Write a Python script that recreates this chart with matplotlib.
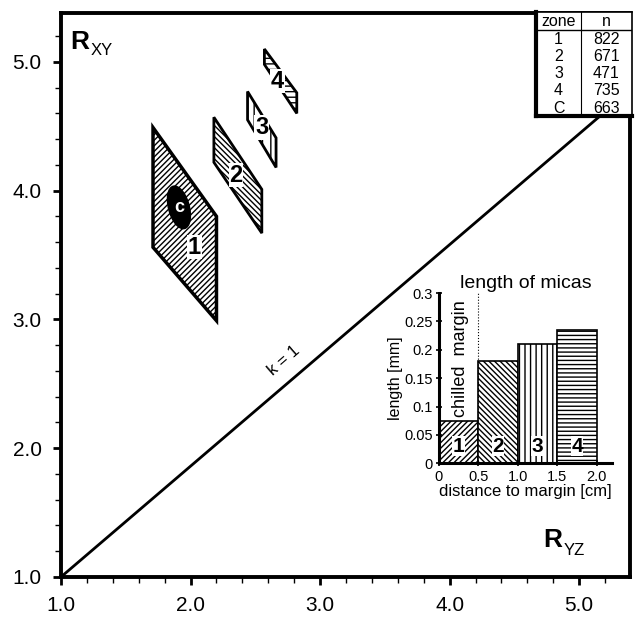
import matplotlib
matplotlib.use('Agg')
import matplotlib.pyplot as plt
from matplotlib.patches import Polygon, Ellipse

plt.rcParams['font.family'] = ['Liberation Sans', 'DejaVu Sans']
plt.rcParams['hatch.linewidth'] = 1.0

# zone outlines in the Flinn plot (R_YZ, R_XY)
zone1_x = [1.71, 2.20, 2.20, 1.71]
zone1_y = [4.49, 3.80, 2.99, 3.56]
zone2_x = [2.18, 2.55, 2.55, 2.18]
zone2_y = [4.57, 4.01, 3.67, 4.22]
zone3_x = [2.44, 2.66, 2.66, 2.44]
zone3_y = [4.77, 4.41, 4.18, 4.55]
zone4_x = [2.57, 2.82, 2.82, 2.57]
zone4_y = [5.10, 4.76, 4.60, 4.98]
zoneC_center = (1.91, 3.87)
zoneC_size = (0.16, 0.34)

zone_labels = ['1', '2', '3', '4']
zone_label_x = [2.03, 2.35, 2.55, 2.67]
zone_label_y = [3.56, 4.12, 4.49, 4.85]

k1_x = [1.0, 5.22]
k1_y = [1.0, 4.63]

table_zone = ['1', '2', '3', '4', 'C']
table_n = [822, 671, 471, 735, 663]

# inset: mica length vs distance to margin
bar_left = [0.0, 0.5, 1.0, 1.5]
bar_len = [0.075, 0.18, 0.21, 0.235]
bar_hatch = ['//////', '\\\\\\\\\\\\', '|||', '----']
bar_labels = ['1', '2', '3', '4']

fig = plt.figure(figsize=(6.36, 6.17), dpi=100)
ax = fig.add_axes([0.096, 0.065, 0.894, 0.914])
ax.set_xlim(1.0, 5.39)
ax.set_ylim(1.0, 5.38)

for s in ax.spines.values():
    s.set_linewidth(2.8)
ax.set_xticks([1, 2, 3, 4, 5])
ax.set_yticks([1, 2, 3, 4, 5])
ax.set_xticklabels(['1.0', '2.0', '3.0', '4.0', '5.0'])
ax.set_yticklabels(['1.0', '2.0', '3.0', '4.0', '5.0'])
ax.set_xticks([1 + 0.2 * i for i in range(22)], minor=True)
ax.set_yticks([1 + 0.2 * i for i in range(22)], minor=True)
ax.tick_params(which='major', direction='out', length=6, width=2, labelsize=15, pad=8)
ax.tick_params(which='minor', direction='out', length=4, width=1)

ax.plot(k1_x, k1_y, color='black', lw=2)
ax.text(2.72, 2.68, 'k = 1', rotation=41, fontsize=12, ha='center', va='center')

polys = [(zone1_x, zone1_y, '//////', 2.5), (zone2_x, zone2_y, '\\\\\\\\\\\\', 2.0),
         (zone3_x, zone3_y, '||', 2.0), (zone4_x, zone4_y, '---', 2.0)]
for xs, ys, h, lw in polys:
    ax.add_patch(Polygon(list(zip(xs, ys)), closed=True, facecolor='white',
                         edgecolor='black', hatch=h, lw=lw))
ax.add_patch(Ellipse(zoneC_center, zoneC_size[0], zoneC_size[1], angle=15,
                     facecolor='black', edgecolor='black'))
ax.text(zoneC_center[0], zoneC_center[1], 'c', color='white', fontsize=13,
        fontweight='bold', ha='center', va='center')
for lab, lx, ly in zip(zone_labels, zone_label_x, zone_label_y):
    ax.text(lx, ly, lab, fontsize=17, fontweight='bold', ha='center', va='center',
            bbox=dict(facecolor='white', edgecolor='none', pad=0.5))

ax.text(1.07, 5.1, 'R', fontsize=19, fontweight='bold', ha='left', va='baseline')
ax.text(1.23, 5.05, 'XY', fontsize=12, ha='left', va='baseline')
ax.text(4.72, 1.23, 'R', fontsize=19, fontweight='bold', ha='left', va='baseline')
ax.text(4.88, 1.17, 'YZ', fontsize=12, ha='left', va='baseline')

# zone / n table
tab = fig.add_axes([0.843, 0.812, 0.150, 0.168])
tab.set_xlim(0, 1)
tab.set_ylim(6, 0)
tab.set_xticks([])
tab.set_yticks([])
tab.spines['left'].set_linewidth(3)
tab.spines['bottom'].set_linewidth(3)
tab.spines['top'].set_linewidth(1.2)
tab.spines['right'].set_linewidth(1.2)
tab.axhline(1, color='black', lw=1)
tab.axvline(0.47, color='black', lw=0.8)
tab.text(0.235, 0.55, 'zone', fontsize=11.5, ha='center', va='center')
tab.text(0.735, 0.55, 'n', fontsize=11.5, ha='center', va='center')
for i, (z, n) in enumerate(zip(table_zone, table_n)):
    tab.text(0.235, 1.55 + i, z, fontsize=11.5, ha='center', va='center')
    tab.text(0.735, 1.55 + i, str(n), fontsize=11.5, ha='center', va='center')

# inset bar chart
ins = fig.add_axes([0.690, 0.249, 0.273, 0.276])
ins.set_xlim(0, 2.2)
ins.set_ylim(0, 0.3)
for lft, ln, h in zip(bar_left, bar_len, bar_hatch):
    ins.bar(lft, ln, width=0.5, align='edge', facecolor='white', edgecolor='black',
            hatch=h, lw=1.2)
for lft, lab in zip(bar_left, bar_labels):
    ins.text(lft + 0.25, 0.03, lab, fontsize=15, fontweight='bold', ha='center', va='center',
             bbox=dict(facecolor='white', edgecolor='none', pad=0.3))
ins.plot([0.5, 0.5], [0.075, 0.3], color='black', lw=0.8, ls=':')
ins.text(0.28, 0.185, 'chilled  margin', rotation=90, fontsize=13, ha='center',
         va='center')
ins.spines['top'].set_visible(False)
ins.spines['right'].set_visible(False)
ins.spines['left'].set_linewidth(2.2)
ins.spines['bottom'].set_linewidth(2.2)
ins.set_xticks([0, 0.5, 1.0, 1.5, 2.0])
ins.set_xticklabels(['0', '0.5', '1.0', '1.5', '2.0'])
ins.set_yticks([0, 0.05, 0.1, 0.15, 0.2, 0.25, 0.3])
ins.set_yticklabels(['0', '0.05', '0.1', '0.15', '0.2', '0.25', '0.3'])
ins.tick_params(direction='inout', length=5, width=1.2, labelsize=10.5, pad=2)
ins.set_title('length of micas', fontsize=14, pad=4)
ins.set_xlabel('distance to margin [cm]', fontsize=12, labelpad=0)
ins.set_ylabel('length [mm]', fontsize=11.5, labelpad=1)

fig.savefig('out.png', dpi=100)
